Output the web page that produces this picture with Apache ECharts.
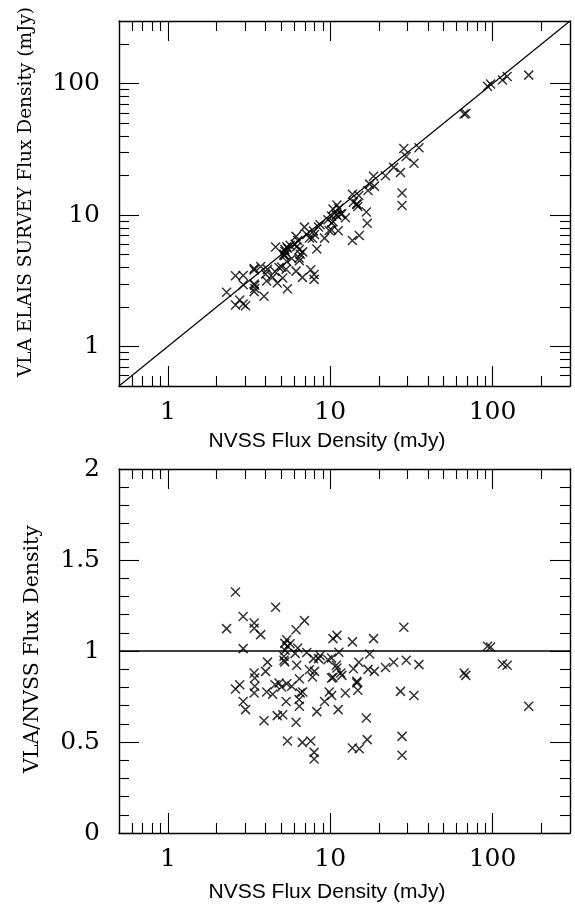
<!DOCTYPE html>
<html>
<head>
<meta charset="utf-8">
<script src="https://cdn.jsdelivr.net/npm/echarts@6/dist/echarts.min.js"></script>
<style>
html,body{margin:0;padding:0;background:#fff;}
#chart{width:575px;height:910px;}
</style>
</head>
<body>
<div id="chart"></div>
<script>
// NVSS flux density (mJy) of each source
const nvss = [2.61, 2.30, 2.91, 3.40, 3.40, 3.73, 2.91, 4.61, 6.16, 6.94,
  5.40, 5.66, 6.31, 10.4, 11.0, 13.7, 18.5, 28.4, 93.1, 97.2,
  115, 123, 66.8, 68.4, 167, 29.4, 35.2, 24.6, 21.9, 17.5,
  17.1, 18.7, 15.0, 13.9, 27.1, 32.8, 27.7, 27.7, 16.7, 16.9,
  13.7, 15.1, 14.6, 14.8, 12.4, 11.2, 10.2, 9.86, 9.23, 8.27,
  11.3, 10.2, 9.68, 8.67, 8.47, 10.9, 11.6, 11.8, 10.2, 10.4,
  7.17, 7.89, 7.45, 7.78, 8.0, 6.46, 6.22, 6.08, 5.19, 5.25,
  5.19, 5.25, 5.45, 4.11, 4.0, 3.40, 3.43, 3.43, 3.40, 2.77,
  2.61, 2.91, 3.01, 3.91, 4.06, 4.42, 4.57, 4.84, 5.02, 5.40,
  5.79, 4.72, 5.10, 5.35, 6.16, 6.46, 6.54, 6.77, 5.45, 6.74,
  7.59, 7.96, 7.96, 6.43, 5.27, 11.0, 14.6];
// VLA / NVSS flux density ratio of each source
const ratio = [1.324, 1.123, 1.19, 1.154, 1.125, 1.09, 1.013, 1.24, 1.117, 1.167,
  1.062, 1.04, 1.016, 1.068, 1.086, 1.05, 1.068, 1.13, 1.026, 1.022,
  0.929, 0.922, 0.879, 0.866, 0.696, 0.949, 0.925, 0.938, 0.909, 0.983,
  0.899, 0.888, 0.938, 0.902, 0.778, 0.755, 0.531, 0.427, 0.632, 0.513,
  0.467, 0.463, 0.825, 0.784, 0.769, 0.678, 0.755, 0.775, 0.723, 0.667,
  0.993, 0.962, 0.952, 0.974, 0.958, 0.922, 0.879, 0.866, 0.852, 0.855,
  0.992, 0.958, 0.897, 0.857, 0.888, 0.848, 0.922, 0.987, 0.949, 0.94,
  0.971, 1.042, 1.026, 0.939, 0.888, 0.879, 0.852, 0.806, 0.769, 0.815,
  0.791, 0.723, 0.678, 0.617, 0.775, 0.762, 0.815, 0.824, 0.802, 0.82,
  0.806, 0.645, 0.65, 0.723, 0.608, 0.696, 0.769, 0.775, 0.505, 0.498,
  0.505, 0.443, 0.407, 0.733, 1.004, 0.907, 0.833];

const fluxRange = [0.5, 300];
const ratioRange = [0, 2];
const unityRatio = 1;
const logMajorTicks = [1, 10, 100];
const logMinorTicks = [0.6, 0.7, 0.8, 0.9, 2, 3, 4, 5, 6, 7, 8, 9, 20, 30, 40, 50, 60, 70, 80, 90, 200];
const ratioTickStep = 0.5;

const xName = 'NVSS Flux Density (mJy)';
const yNameTop = 'VLA ELAIS SURVEY Flux Density (mJy)';
const yNameBottom = 'VLA/NVSS Flux Density';

const SERIF = '"DejaVu Serif", serif';
const SANS = '"Liberation Sans", Arial, sans-serif';
const BLACK = '#000';
const FRAME_W = 1.4;

function logAxis(gridIndex, position, major, labels) {
  return {
    type: 'log', logBase: 10, gridIndex, position,
    min: fluxRange[0], max: fluxRange[1],
    axisLine: { show: major, onZero: false, lineStyle: { color: BLACK, width: FRAME_W } },
    axisTick: { show: true, inside: true, length: major ? 20 : 10,
      customValues: major ? logMajorTicks : logMinorTicks,
      lineStyle: { color: BLACK, width: 1.1 } },
    axisLabel: labels ? { show: true, customValues: logMajorTicks, formatter: v => String(Math.round(v)),
      fontFamily: SERIF, fontSize: 25, color: BLACK, margin: (position === 'left' ? 19 : 14) } : { show: false },
    splitLine: { show: false }, minorTick: { show: false }, minorSplitLine: { show: false }
  };
}
function ratioAxis(gridIndex, position, labels) {
  return {
    type: 'value', gridIndex, position,
    min: ratioRange[0], max: ratioRange[1], interval: ratioTickStep,
    axisLine: { show: true, onZero: false, lineStyle: { color: BLACK, width: FRAME_W } },
    axisTick: { show: true, inside: true, length: 20, lineStyle: { color: BLACK, width: 1.1 } },
    minorTick: { show: true, splitNumber: 5, length: 10, lineStyle: { color: BLACK, width: 1.1 } },
    axisLabel: labels ? { show: true, fontFamily: SERIF, fontSize: 25, color: BLACK, margin: 19 } : { show: false },
    splitLine: { show: false }, minorSplitLine: { show: false }
  };
}

const xAxes = [
  logAxis(0, 'bottom', true, true), logAxis(0, 'bottom', false, false),
  logAxis(0, 'top', true, false), logAxis(0, 'top', false, false),
  logAxis(1, 'bottom', true, true), logAxis(1, 'bottom', false, false),
  logAxis(1, 'top', true, false), logAxis(1, 'top', false, false)
];
const yAxes = [
  logAxis(0, 'left', true, true), logAxis(0, 'left', false, false),
  logAxis(0, 'right', true, false), logAxis(0, 'right', false, false),
  ratioAxis(1, 'left', true), ratioAxis(1, 'right', false)
];

const crossSymbol = 'path://M0,0L9,9M9,0L0,9';
const markStyle = { color: 'rgba(0,0,0,0)', borderColor: BLACK, borderWidth: 1.5 };

const topPoints = nvss.map((x, i) => [x, x * ratio[i]]);
const bottomPoints = nvss.map((x, i) => [x, ratio[i]]);

const chart = echarts.init(document.getElementById('chart'), null, { renderer: 'canvas' });
chart.setOption({
  backgroundColor: '#fff',
  animation: false,
  grid: [
    { left: 119, top: 21, width: 451, height: 365 },
    { left: 119, top: 469, width: 451, height: 364 }
  ],
  xAxis: xAxes,
  yAxis: yAxes,
  series: [
    { type: 'line', xAxisIndex: 0, yAxisIndex: 0, data: [[fluxRange[0], fluxRange[0]], [fluxRange[1], fluxRange[1]]],
      symbol: 'none', lineStyle: { color: BLACK, width: 1.2 }, silent: true },
    { type: 'scatter', xAxisIndex: 0, yAxisIndex: 0, data: topPoints,
      symbol: crossSymbol, symbolSize: 9, itemStyle: markStyle },
    { type: 'line', xAxisIndex: 4, yAxisIndex: 4, data: [[fluxRange[0], unityRatio], [fluxRange[1], unityRatio]],
      symbol: 'none', lineStyle: { color: BLACK, width: 1.4 }, silent: true },
    { type: 'scatter', xAxisIndex: 4, yAxisIndex: 4, data: bottomPoints,
      symbol: crossSymbol, symbolSize: 9, itemStyle: markStyle }
  ],
  graphic: [
    { type: 'text', x: 327, y: 441, style: { text: xName, font: '21px ' + SANS, fill: BLACK, textAlign: 'center', textVerticalAlign: 'middle' } },
    { type: 'text', x: 327, y: 892, style: { text: xName, font: '21px ' + SANS, fill: BLACK, textAlign: 'center', textVerticalAlign: 'middle' } },
    { type: 'text', x: 26, y: 192, rotation: Math.PI / 2, style: { text: yNameTop, font: '18.5px ' + SERIF, fill: BLACK, textAlign: 'center', textVerticalAlign: 'middle' } },
    { type: 'text', x: 33, y: 649, rotation: Math.PI / 2, style: { text: yNameBottom, font: '20.5px ' + SERIF, fill: BLACK, textAlign: 'center', textVerticalAlign: 'middle' } }
  ]
});
</script>
</body>
</html>
